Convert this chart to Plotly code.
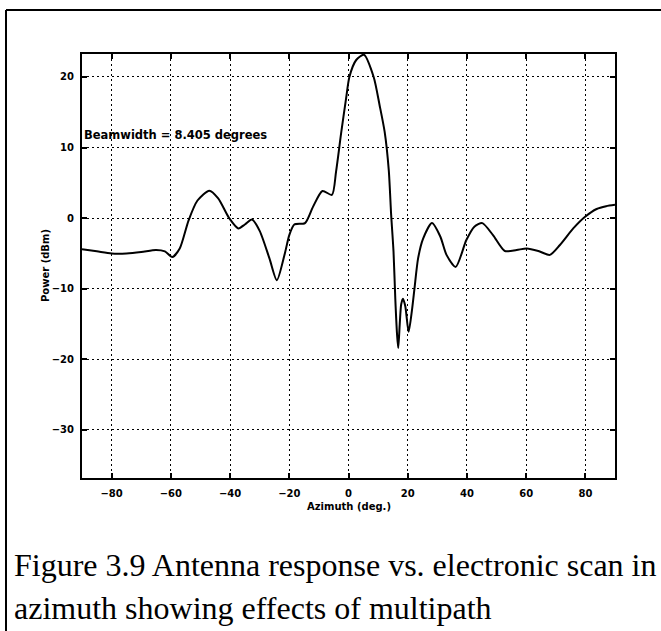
import plotly.graph_objects as go

# Antenna response vs. electronic scan angle (azimuth), with multipath effects
azimuth_deg = [
    -90, -85, -80, -75, -70, -65, -62, -59.5, -57, -54, -51, -47, -44, -40.3,
    -37.2, -35, -32.6, -30, -26.7, -24.2, -21.5, -20, -18.3, -14.7, -12, -8.8,
    -5.6, -4.2, -2.5, -0.8, 0.3, 2.6, 5.2, 8.5, 10.5, 12.2, 13.6, 14.4,
    15.2, 15.8, 16.4, 16.8, 17.3, 17.8, 18.4, 19.2, 20.3, 21.5, 22.3, 23.5,
    25.2, 28.2, 31, 33.1, 36.2, 39.8, 42.5, 45.2, 48.8, 52.8, 56.8, 60.2,
    64.1, 68.0, 71.4, 75.9, 79.9, 83.8, 87, 90,
]
power_dbm = [
    -4.4, -4.7, -5.0, -5.0, -4.8, -4.5, -4.7, -5.5, -4.3, -0.3, 2.5, 3.9, 2.8, 0.0,
    -1.45, -0.9, -0.2, -1.8, -5.7, -8.8, -5.0, -2.4, -0.9, -0.7, 1.6, 3.85,
    3.3, 6.6, 12.0, 17.0, 20.0, 22.4, 23.15, 20.0, 16.0, 12.25, 6.8, 0.5,
    -4.7, -11.4, -16.5, -18.4, -15.0, -12.2, -11.4, -12.5, -16.1, -12.8, -9.9, -5.7,
    -2.9, -0.7, -2.6, -5.2, -6.9, -3.1, -1.2, -0.7, -2.4, -4.65, -4.5, -4.3,
    -4.65, -5.2, -3.8, -1.45, 0.2, 1.3, 1.7, 1.9,
]

x_ticks = [-80, -60, -40, -20, 0, 20, 40, 60, 80]
y_ticks = [-30, -20, -10, 0, 10, 20]

beamwidth_label = "Beamwidth = 8.405 degrees"
x_title = "Azimuth (deg.)"
y_title = "Power (dBm)"
caption_lines = [
    "Figure 3.9 Antenna response vs. electronic scan in",
    "azimuth showing effects of multipath",
]

W, H = 661, 631
L, R, T, B = 82, 46, 54, 153
pw, ph = W - L - R, H - T - B


def px(xp):
    return (xp - L) / pw


def py(yp):
    return (H - B - yp) / ph


axis_font = dict(family="DejaVu Sans", size=10, color="black", weight="bold")

fig = go.Figure()
fig.add_trace(go.Scatter(
    x=azimuth_deg, y=power_dbm, mode="lines",
    line=dict(color="black", width=2, shape="spline", smoothing=0.7),
    showlegend=False, hoverinfo="skip",
))

common_axis = dict(
    showline=True, linecolor="black", linewidth=2, mirror="allticks",
    ticks="inside", ticklen=5, tickwidth=1.5, tickcolor="black",
    showgrid=True, gridcolor="black", gridwidth=1.4, griddash="2px,3px",
    zeroline=False, tickfont=axis_font,
)

fig.update_xaxes(range=[-90, 90], tickmode="array", tickvals=x_ticks,
                 ticklabelstandoff=5, **common_axis)
fig.update_yaxes(range=[-36.8, 23.25], tickmode="array", tickvals=y_ticks,
                 ticklabelstandoff=4, **common_axis)

annotations = [
    dict(text=beamwidth_label, x=-90, y=11.8, xref="x", yref="y",
         xanchor="left", yanchor="middle", showarrow=False,
         font=dict(family="DejaVu Sans", size=11.5, color="black", weight="bold")),
    dict(text=x_title, x=0.5, y=py(506), xref="paper", yref="paper",
         xanchor="center", yanchor="middle", showarrow=False, font=axis_font),
    dict(text=y_title, x=px(45), y=0.5, xref="paper", yref="paper",
         xanchor="center", yanchor="middle", textangle=-90, showarrow=False,
         font=axis_font),
]
cap_y = [565, 608]
for line, yc in zip(caption_lines, cap_y):
    annotations.append(dict(
        text=line, x=px(12), y=py(yc), xref="paper", yref="paper",
        xanchor="left", yanchor="middle", showarrow=False,
        font=dict(family="Liberation Serif", size=32, color="black"),
    ))

# outer figure border (left and top edges)
shapes = [
    dict(type="line", xref="paper", yref="paper", x0=px(6), x1=px(6),
         y0=py(10), y1=py(H + 2), line=dict(color="black", width=2)),
    dict(type="line", xref="paper", yref="paper", x0=px(6), x1=px(W + 2),
         y0=py(10), y1=py(10), line=dict(color="black", width=2)),
]

fig.update_layout(
    width=W, height=H,
    margin=dict(l=L, r=R, t=T, b=B),
    paper_bgcolor="white", plot_bgcolor="white",
    annotations=annotations, shapes=shapes,
    showlegend=False,
)

fig.write_html("out.html", config={"displayModeBar": False})
